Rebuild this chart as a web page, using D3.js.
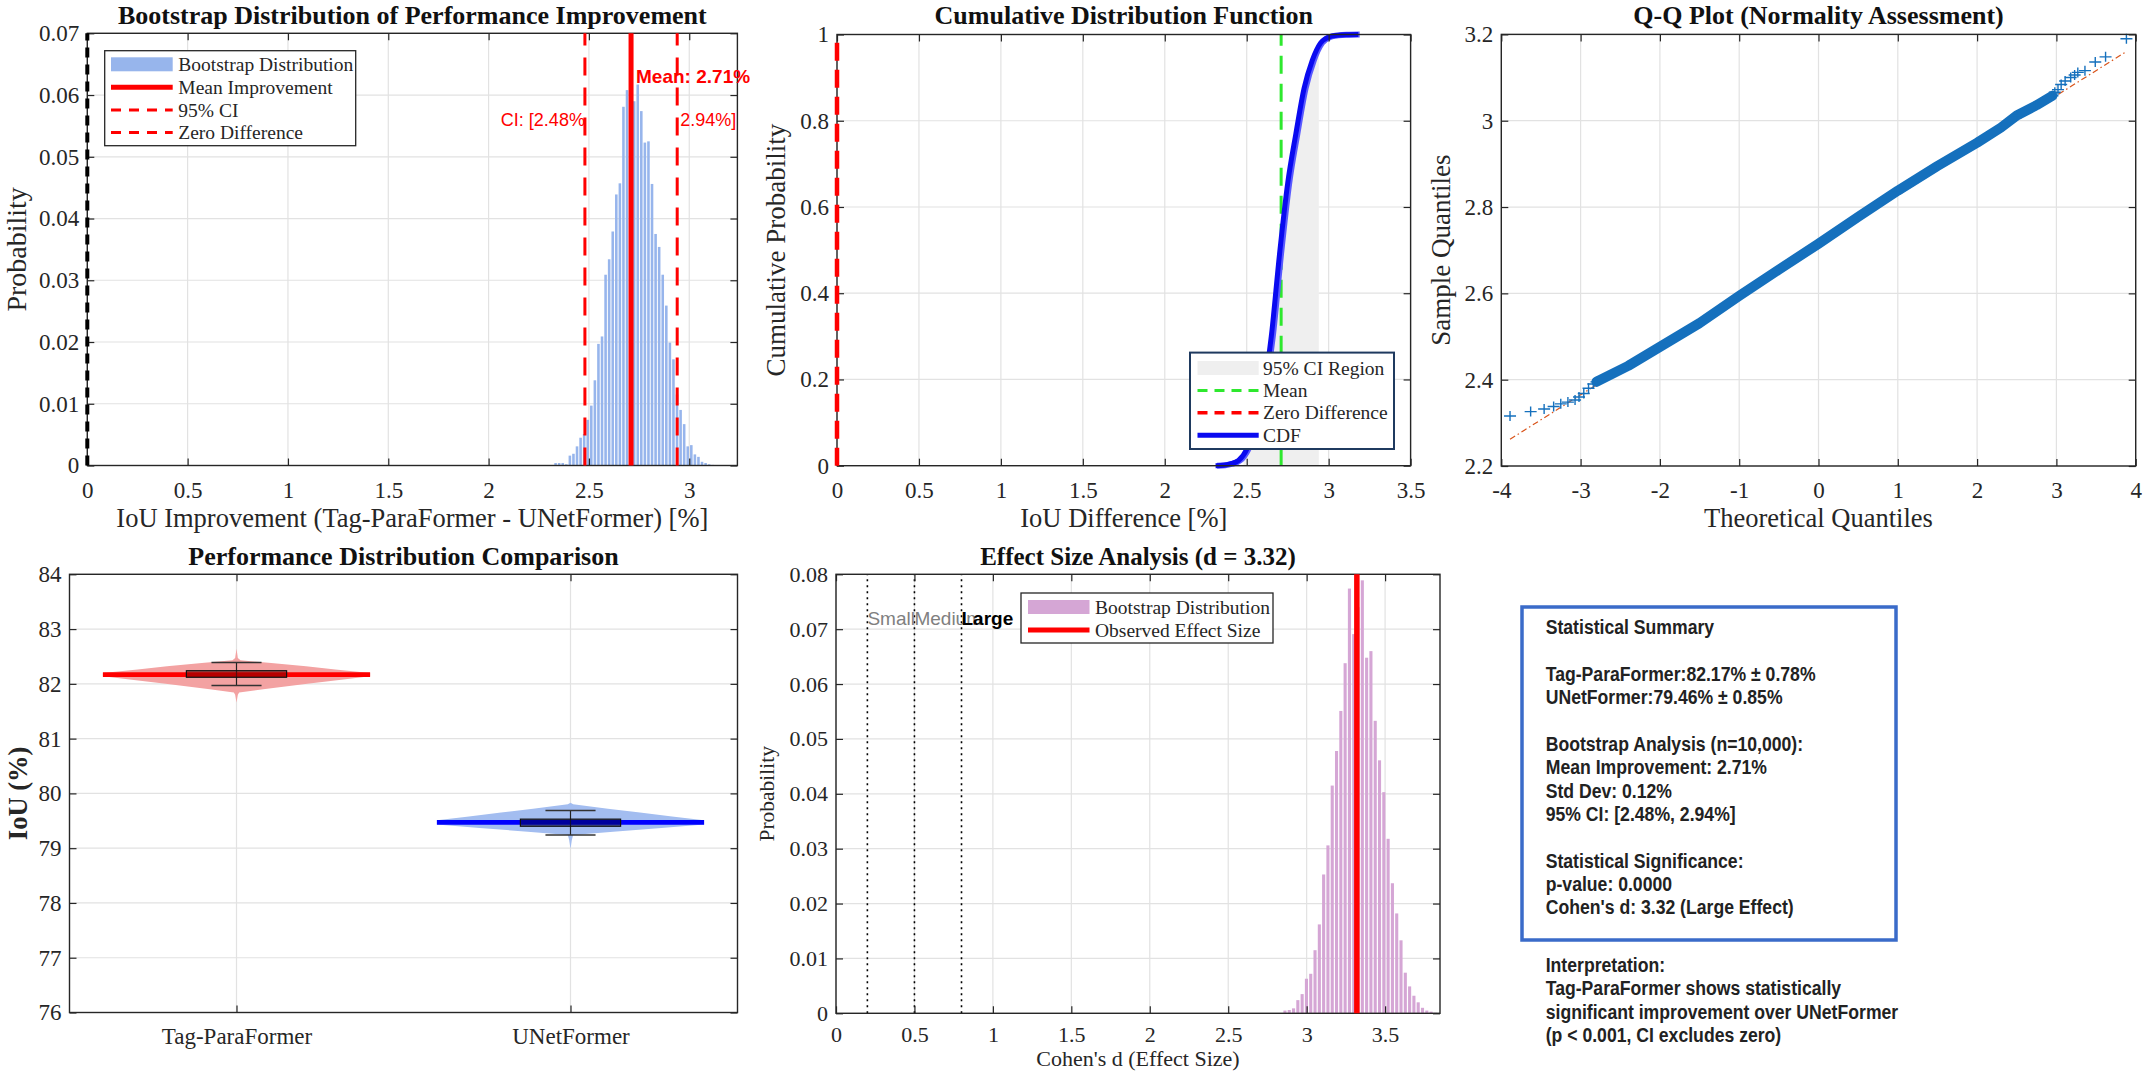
<!DOCTYPE html>
<html><head><meta charset="utf-8">
<script src="https://cdn.jsdelivr.net/npm/d3@7"></script>
<style>body{margin:0;background:#fff}svg{display:block}</style>
</head><body>
<svg id="c" width="2144" height="1078"></svg>
<script>
// ---------------- DATA ----------------
// Panel 1: bootstrap distribution of IoU improvement (histogram, probability)
const diffBinStart = 2.325;
const diffBinWidth = 0.0178;
const diffProb = [0.0004,0.0004,0.0004,0.0002,0.0016,0.0019,0.0031,0.0045,0.0051,0.0074,0.0097,0.0138,0.0197,0.0209,0.0309,0.0334,0.0379,0.0439,0.0457,0.0581,0.0608,0.0552,0.0590,0.0617,0.0574,0.0523,0.0525,0.0456,0.0375,0.0354,0.0309,0.0259,0.0199,0.0172,0.0115,0.0090,0.0067,0.0031,0.0033,0.0018,0.0014,0.0006,0.0004,0.0002,0.0001,0.00005];
const diffMean = 2.71;
const diffCI = [2.48, 2.94];
const diffXTicks = [0,0.5,1,1.5,2,2.5,3];
const diffYTicks = [0,0.01,0.02,0.03,0.04,0.05,0.06,0.07];

// Panel 2: empirical CDF
const cdfX = [2.31,2.36,2.40,2.45,2.50,2.55,2.60,2.65,2.70,2.75,2.80,2.85,2.90,2.95,3.00,3.05,3.10,3.18];
const cdfP = [0,0.001,0.004,0.012,0.038,0.09,0.17,0.30,0.49,0.655,0.77,0.875,0.94,0.98,0.994,0.998,0.9995,1];
const cdfXTicks = [0,0.5,1,1.5,2,2.5,3,3.5];
const cdfYTicks = [0,0.2,0.4,0.6,0.8,1];

// Panel 3: Q-Q plot
const qqBandX = [-2.80,-2.40,-2.00,-1.50,-1.00,-0.50,0.00,0.50,1.00,1.50,2.00,2.30,2.50,2.75,2.95];
const qqBandY = [2.395,2.432,2.476,2.531,2.594,2.655,2.715,2.777,2.838,2.895,2.949,2.984,3.012,3.036,3.058];
const qqTailX = [-3.89,-3.63,-3.46,-3.34,-3.25,-3.16,-3.07,-3.02,-2.96,-2.90,-2.84,2.98,3.02,3.06,3.11,3.18,3.23,3.27,3.36,3.49,3.62,3.883];
const qqTailY = [2.316,2.326,2.332,2.338,2.344,2.348,2.353,2.360,2.368,2.380,2.390,3.066,3.072,3.084,3.092,3.100,3.106,3.112,3.116,3.136,3.148,3.190];
const qqRefX = [-3.89, 3.88];
const qqRefY = [2.262, 3.160];
const qqXTicks = [-4,-3,-2,-1,0,1,2,3,4];
const qqYTicks = [2.2,2.4,2.6,2.8,3,3.2];

// Panel 4: performance distribution (violins)
const models = ["Tag-ParaFormer","UNetFormer"];
const modelMean = [82.17, 79.47];
const modelQ1 = [82.12, 79.40];
const modelQ3 = [82.24, 79.53];
const modelWhiskerLo = [81.97, 79.24];
const modelWhiskerHi = [82.39, 79.69];
const tagViolinY = [81.66,81.80,81.84,81.90,82.00,82.08,82.14,82.17,82.20,82.26,82.32,82.38,82.43,82.47,82.64];
const tagViolinW = [0,0.01,0.02,0.2,0.53,0.8,1,1,1,0.74,0.52,0.26,0.03,0.01,0];
const uneViolinY = [78.99,79.15,79.24,79.30,79.37,79.43,79.47,79.51,79.58,79.65,79.72,79.80,79.83];
const uneViolinW = [0,0.01,0.02,0.32,0.68,1,1,1,0.76,0.52,0.28,0.02,0];
const iouYTicks = [76,77,78,79,80,81,82,83,84];

// Panel 5: effect size
const effBinStart = 2.848;
const effBinWidth = 0.0274;
const effProb = [0.0005,0.0006,0.0009,0.0024,0.0035,0.0063,0.0072,0.0115,0.0162,0.0253,0.0306,0.0415,0.0478,0.0551,0.0638,0.0774,0.0691,0.0740,0.0789,0.0648,0.0660,0.0533,0.0461,0.0403,0.0318,0.0237,0.0182,0.0133,0.0074,0.0049,0.0032,0.0020,0.0010,0.0005,0.0003,0.0001];
const cohenD = 3.32;
const effThresh = [0.2, 0.5, 0.8];
const effThreshLabel = ["Small","Medium","Large"];
const effXTicks = [0,0.5,1,1.5,2,2.5,3,3.5];
const effYTicks = [0,0.01,0.02,0.03,0.04,0.05,0.06,0.07,0.08];

// Panel 6: summary text
const summaryLines = [
  "Statistical Summary","",
  "Tag-ParaFormer:82.17% \u00b1 0.78%",
  "UNetFormer:79.46% \u00b1 0.85%","",
  "Bootstrap Analysis (n=10,000):",
  "Mean Improvement: 2.71%",
  "Std Dev: 0.12%",
  "95% CI: [2.48%, 2.94%]","",
  "Statistical Significance:",
  "p-value: 0.0000",
  "Cohen's d: 3.32 (Large Effect)"
];
const interpretationLines = [
  "Interpretation:",
  "Tag-ParaFormer shows statistically",
  "significant improvement over UNetFormer",
  "(p < 0.001, CI excludes zero)"
];

// ---------------- DRAWING ----------------
const svg = d3.select("#c");
const SERIF = "'Liberation Serif','Times New Roman',Times,serif";
const SANS = "'Liberation Sans',Arial,Helvetica,sans-serif";
const INK = "#262626";

function makeAxes(o){
  const x = d3.scaleLinear().domain(o.xDomain).range([o.l, o.r]);
  const y = d3.scaleLinear().domain(o.yDomain).range([o.b, o.t]);
  const root = svg.append("g");
  const gGrid = root.append("g");
  const gData = root.append("g");
  const gFrame = root.append("g");
  const gTop = root.append("g");
  gGrid.selectAll("line.gx").data(o.xTicks).join("line")
    .attr("x1", d => x(d)).attr("x2", d => x(d)).attr("y1", o.t).attr("y2", o.b)
    .attr("stroke", "#e2e2e2").attr("stroke-width", 1.2);
  gGrid.selectAll("line.gy").data(o.yTicks).join("line")
    .attr("y1", d => y(d)).attr("y2", d => y(d)).attr("x1", o.l).attr("x2", o.r)
    .attr("stroke", "#e2e2e2").attr("stroke-width", 1.2);
  const fs = o.fs || 23;
  const xl = o.xLabels || o.xTicks.map(String);
  const yl = o.yLabels || o.yTicks.map(String);
  const style = g => {
    g.select(".domain").remove();
    g.selectAll("line").attr("stroke", INK).attr("stroke-width", 1.2);
    g.selectAll("text").attr("font-family", SERIF).attr("font-size", fs).attr("fill", INK);
  };
  gFrame.append("g").attr("transform", `translate(0,${o.b})`)
    .call(d3.axisBottom(x).tickValues(o.xTicks).tickFormat((d,i) => xl[i]).tickSizeInner(-7).tickSizeOuter(0).tickPadding(o.xPad || 16)).call(style);
  gFrame.append("g").attr("transform", `translate(${o.l},0)`)
    .call(d3.axisLeft(y).tickValues(o.yTicks).tickFormat((d,i) => yl[i]).tickSizeInner(-7).tickSizeOuter(0).tickPadding(8)).call(style);
  gFrame.append("g").attr("transform", `translate(0,${o.t})`)
    .call(d3.axisTop(x).tickValues(o.xTicks).tickFormat("").tickSizeInner(-7).tickSizeOuter(0)).call(style);
  gFrame.append("g").attr("transform", `translate(${o.r},0)`)
    .call(d3.axisRight(y).tickValues(o.yTicks).tickFormat("").tickSizeInner(-7).tickSizeOuter(0)).call(style);
  gFrame.append("rect").attr("x", o.l).attr("y", o.t).attr("width", o.r - o.l).attr("height", o.b - o.t)
    .attr("fill", "none").attr("stroke", INK).attr("stroke-width", 1.4);
  svg.append("text").attr("x", (o.l + o.r) / 2).attr("y", o.titleY).attr("text-anchor", "middle")
    .attr("font-family", SERIF).attr("font-weight", "bold").attr("font-size", o.titleFs || 26).attr("fill", "#111")
    .text(o.title);
  if (o.xLabel) svg.append("text").attr("x", (o.l + o.r) / 2).attr("y", o.xLabelY).attr("text-anchor", "middle")
    .attr("font-family", SERIF).attr("font-size", o.labelFs || 26.5).attr("fill", INK).text(o.xLabel);
  svg.append("text").attr("transform", `translate(${o.yLabelX},${(o.t + o.b) / 2}) rotate(-90)`)
    .attr("text-anchor", "middle").attr("dominant-baseline", "central")
    .attr("font-family", SERIF).attr("font-size", o.yLabelFs || o.labelFs || 26.5)
    .attr("font-weight", o.yLabelBold ? "bold" : "normal").attr("fill", INK).text(o.yLabel);
  return {x, y, gData, gTop, root};
}

function legend(g, box, rows, o){
  g.append("rect").attr("x", box[0]).attr("y", box[1]).attr("width", box[2] - box[0]).attr("height", box[3] - box[1])
    .attr("fill", "#fff").attr("stroke", o.stroke || INK).attr("stroke-width", o.sw || 1.3);
  rows.forEach((r, i) => {
    const cy = o.rowY[i];
    if (r.type === "patch") {
      g.append("rect").attr("x", o.sx0).attr("y", cy - 7).attr("width", o.sx1 - o.sx0).attr("height", 14).attr("fill", r.color);
    } else {
      g.append("line").attr("x1", o.sx0).attr("x2", o.sx1).attr("y1", cy).attr("y2", cy)
        .attr("stroke", r.color).attr("stroke-width", r.w).attr("stroke-dasharray", r.dash || null);
    }
    g.append("text").attr("x", o.tx).attr("y", cy).attr("dominant-baseline", "central")
      .attr("font-family", SERIF).attr("font-size", o.fs || 19.5).attr("fill", INK).text(r.label);
  });
}

// ---- Panel 1 ----
{
  const A = makeAxes({l: 87.3, r: 737.4, t: 33.3, b: 465.5, xDomain: [0, 3.24], yDomain: [0, 0.07],
    xTicks: diffXTicks, yTicks: diffYTicks, title: "Bootstrap Distribution of Performance Improvement", titleY: 24,
    xLabel: "IoU Improvement (Tag-ParaFormer - UNetFormer) [%]", xLabelY: 527, yLabel: "Probability", yLabelX: 16, yLabelFs: 28});
  const {x, y, gData, gTop} = A;
  gData.selectAll("rect.bar").data(diffProb).join("rect")
    .attr("x", (d, i) => x(diffBinStart + i * diffBinWidth) + 0.5)
    .attr("width", (d, i) => x(diffBinStart + (i + 1) * diffBinWidth) - x(diffBinStart + i * diffBinWidth) - 1)
    .attr("y", d => y(d)).attr("height", d => y(0) - y(d)).attr("fill", "#97b5ec");
  gTop.append("line").attr("x1", x(0)).attr("x2", x(0)).attr("y1", y(0)).attr("y2", y(0.07))
    .attr("stroke", "#000").attr("stroke-width", 4).attr("stroke-dasharray", "10,7");
  gTop.append("line").attr("x1", x(diffMean)).attr("x2", x(diffMean)).attr("y1", y(0)).attr("y2", y(0.07))
    .attr("stroke", "#ff0000").attr("stroke-width", 5);
  diffCI.forEach(v => gTop.append("line").attr("x1", x(v)).attr("x2", x(v)).attr("y1", y(0)).attr("y2", y(0.07))
    .attr("stroke", "#ff0000").attr("stroke-width", 3).attr("stroke-dasharray", "18,12"));
  gTop.append("text").attr("x", x(diffMean) + 5).attr("y", y(0.063)).attr("dominant-baseline", "central")
    .attr("font-family", SANS).attr("font-weight", "bold").attr("font-size", 19).attr("fill", "#ff0000").text("Mean: " + diffMean.toFixed(2) + "%");
  gTop.append("text").attr("x", x(diffCI[0])).attr("y", y(0.056)).attr("dominant-baseline", "central").attr("text-anchor", "end")
    .attr("font-family", SANS).attr("font-size", 18).attr("fill", "#ff0000").text("CI: [" + diffCI[0].toFixed(2) + "%");
  gTop.append("text").attr("x", x(diffCI[1]) + 3).attr("y", y(0.056)).attr("dominant-baseline", "central")
    .attr("font-family", SANS).attr("font-size", 18).attr("fill", "#ff0000").text(diffCI[1].toFixed(2) + "%]");
  legend(gTop, [104.7, 50.7, 355.7, 145.7], [
    {type: "patch", color: "#97b5ec", label: "Bootstrap Distribution"},
    {type: "line", color: "#ff0000", w: 5, label: "Mean Improvement"},
    {type: "line", color: "#ff0000", w: 3, dash: "10,8", label: "95% CI"},
    {type: "line", color: "#ff0000", w: 3, dash: "10,8", label: "Zero Difference"}
  ], {rowY: [64.3, 87.3, 110, 132.5], sx0: 111, sx1: 172.7, tx: 178.3});
}

// ---- Panel 2 ----
{
  const A = makeAxes({l: 837, r: 1410.6, t: 34.5, b: 465.7, xDomain: [0, 3.5], yDomain: [0, 1],
    xTicks: cdfXTicks, yTicks: cdfYTicks, title: "Cumulative Distribution Function", titleY: 24,
    xLabel: "IoU Difference [%]", xLabelY: 527, yLabel: "Cumulative Probability", yLabelX: 776, yLabelFs: 27});
  const {x, y, gData, gTop, root} = A;
  // 95% CI region: area under the CDF between CI bounds
  root.append("clipPath").attr("id", "ciClip").append("rect")
    .attr("x", x(diffCI[0])).attr("width", x(diffCI[1]) - x(diffCI[0])).attr("y", y(1)).attr("height", y(0) - y(1));
  const area = d3.area().x((d, i) => x(cdfX[i])).y0(y(0)).y1(d => y(d)).curve(d3.curveMonotoneX);
  gData.append("path").attr("d", area(cdfP)).attr("fill", "#efefef").attr("clip-path", "url(#ciClip)");
  gData.append("line").attr("x1", x(diffMean)).attr("x2", x(diffMean)).attr("y1", y(0)).attr("y2", y(1))
    .attr("stroke", "#2ee82e").attr("stroke-width", 3).attr("stroke-dasharray", "18,10");
  const line = d3.line().x((d, i) => x(cdfX[i])).y(d => y(d)).curve(d3.curveMonotoneX);
  gData.append("path").attr("d", line(cdfP)).attr("fill", "none").attr("stroke", "#5a5aff").attr("stroke-width", 6)
    .attr("transform", "translate(1.5,0)");
  gData.append("path").attr("d", line(cdfP)).attr("fill", "none").attr("stroke", "#0a0af0").attr("stroke-width", 5);
  gTop.append("line").attr("x1", x(0)).attr("x2", x(0)).attr("y1", y(0)).attr("y2", y(1))
    .attr("stroke", "#ff0000").attr("stroke-width", 4.5).attr("stroke-dasharray", "18,9");
  legend(gTop, [1190, 352.6, 1394, 449], [
    {type: "patch", color: "#efefef", label: "95% CI Region"},
    {type: "line", color: "#2ee82e", w: 3, dash: "10,7", label: "Mean"},
    {type: "line", color: "#ff0000", w: 3.5, dash: "10,7", label: "Zero Difference"},
    {type: "line", color: "#0a0af0", w: 5, label: "CDF"}
  ], {rowY: [368, 390.4, 412.8, 435.2], sx0: 1197.5, sx1: 1258.7, tx: 1263, stroke: "#1f3a5f", sw: 2});
}

// ---- Panel 3 ----
{
  const A = makeAxes({l: 1501.3, r: 2135.7, t: 34.4, b: 466, xDomain: [-4, 4], yDomain: [2.2, 3.2],
    xTicks: qqXTicks, yTicks: qqYTicks, title: "Q-Q Plot (Normality Assessment)", titleY: 24,
    xLabel: "Theoretical Quantiles", xLabelY: 527, yLabel: "Sample Quantiles", yLabelX: 1441, yLabelFs: 27});
  const {x, y, gData} = A;
  gData.append("line").attr("x1", x(qqRefX[0])).attr("x2", x(qqRefX[1])).attr("y1", y(qqRefY[0])).attr("y2", y(qqRefY[1]))
    .attr("stroke", "#d95319").attr("stroke-width", 1.2).attr("stroke-dasharray", "6,3,1.5,3");
  const band = d3.line().x((d, i) => x(qqBandX[i])).y(d => y(d));
  gData.append("path").attr("d", band(qqBandY)).attr("fill", "none").attr("stroke", "#1570bd")
    .attr("stroke-width", 10).attr("stroke-linecap", "round").attr("stroke-linejoin", "round");
  const plus = "M-6,0H6M0,-5V5";
  gData.selectAll("path.tail").data(qqTailY).join("path")
    .attr("transform", (d, i) => `translate(${x(qqTailX[i])},${y(d)})`).attr("d", plus)
    .attr("stroke", "#1570bd").attr("stroke-width", 1.4).attr("fill", "none");
  gData.selectAll("path.body").data(qqBandY).join("path")
    .attr("transform", (d, i) => `translate(${x(qqBandX[i])},${y(d)})`).attr("d", plus)
    .attr("stroke", "#1570bd").attr("stroke-width", 1.4).attr("fill", "none");
}

// ---- Panel 4 ----
{
  const A = makeAxes({l: 69.5, r: 737.5, t: 574.3, b: 1012.5, xDomain: [0.5, 2.5], yDomain: [76, 84],
    xTicks: [1, 2], xLabels: models, yTicks: iouYTicks, xPad: 15, title: "Performance Distribution Comparison", titleY: 565,
    xLabel: "", yLabel: "IoU (%)", yLabelX: 18, yLabelBold: true});
  const {x, y, gData} = A;
  const vY = [tagViolinY, uneViolinY], vW = [tagViolinW, uneViolinW];
  const fills = ["#f3a2a2", "#a3bdf0"], lineC = ["#ff0000", "#0000ff"], boxC = ["#7a0000", "#00004d"];
  const half = 0.4;
  models.forEach((m, k) => {
    const c = k + 1;
    const pts = vY[k].map((v, i) => [x(c + half * vW[k][i]), y(v)])
      .concat(vY[k].map((v, i) => [x(c - half * vW[k][i]), y(v)]).reverse());
    gData.append("path").attr("d", d3.line()(pts) + "Z").attr("fill", fills[k]);
    gData.append("line").attr("x1", x(c - half)).attr("x2", x(c + half)).attr("y1", y(modelMean[k])).attr("y2", y(modelMean[k]))
      .attr("stroke", lineC[k]).attr("stroke-width", 4.8);
    gData.append("line").attr("x1", x(c)).attr("x2", x(c)).attr("y1", y(modelWhiskerLo[k])).attr("y2", y(modelWhiskerHi[k]))
      .attr("stroke", "#222").attr("stroke-width", 1.2);
    [modelWhiskerLo[k], modelWhiskerHi[k]].forEach(v => gData.append("line")
      .attr("x1", x(c - 0.075)).attr("x2", x(c + 0.075)).attr("y1", y(v)).attr("y2", y(v))
      .attr("stroke", "#333").attr("stroke-width", 1.5));
    gData.append("rect").attr("x", x(c - 0.15)).attr("width", x(c + 0.15) - x(c - 0.15))
      .attr("y", y(modelQ3[k])).attr("height", y(modelQ1[k]) - y(modelQ3[k]))
      .attr("fill", boxC[k]).attr("fill-opacity", 0.55).attr("stroke", "#111").attr("stroke-width", 1.2);
  });
}

// ---- Panel 5 ----
{
  const A = makeAxes({l: 836, r: 1440, t: 574.3, b: 1013.3, xDomain: [0, 3.85], yDomain: [0, 0.08],
    xTicks: effXTicks, yTicks: effYTicks, fs: 22, xPad: 13, title: "Effect Size Analysis (d = " + cohenD.toFixed(2) + ")", titleY: 565,
    titleFs: 25, xLabel: "Cohen's d (Effect Size)", xLabelY: 1066, labelFs: 22, yLabel: "Probability", yLabelX: 767, yLabelFs: 21.5});
  const {x, y, gData, gTop} = A;
  gData.selectAll("rect.bar").data(effProb).join("rect")
    .attr("x", (d, i) => x(effBinStart + i * effBinWidth) + 0.6)
    .attr("width", (d, i) => x(effBinStart + (i + 1) * effBinWidth) - x(effBinStart + i * effBinWidth) - 1.2)
    .attr("y", d => y(d)).attr("height", d => y(0) - y(d)).attr("fill", "#d5a6d5");
  effThresh.forEach(v => gData.append("line").attr("x1", x(v)).attr("x2", x(v)).attr("y1", y(0)).attr("y2", y(0.08))
    .attr("stroke", "#000").attr("stroke-width", 1.6).attr("stroke-dasharray", "2,4"));
  effThresh.forEach((v, i) => gData.append("text").attr("x", x(v)).attr("y", y(0.072)).attr("dominant-baseline", "central")
    .attr("font-family", SANS).attr("font-size", 19).attr("font-weight", i === 2 ? "bold" : "normal")
    .attr("fill", i === 2 ? "#000" : "#808080").text(effThreshLabel[i]));
  gTop.append("line").attr("x1", x(cohenD)).attr("x2", x(cohenD)).attr("y1", y(0)).attr("y2", y(0.08))
    .attr("stroke", "#ff0000").attr("stroke-width", 5.5);
  legend(gTop, [1021, 593, 1273, 643], [
    {type: "patch", color: "#d5a6d5", label: "Bootstrap Distribution"},
    {type: "line", color: "#ff0000", w: 5, label: "Observed Effect Size"}
  ], {rowY: [607, 630], sx0: 1028, sx1: 1089.5, tx: 1095});
}

// ---- Panel 6 ----
{
  const g = svg.append("g");
  g.append("rect").attr("x", 1522).attr("y", 607).attr("width", 1896 - 1522).attr("height", 940 - 607)
    .attr("fill", "#fff").attr("stroke", "#3a6bc9").attr("stroke-width", 3.5);
  const sx = 0.86;
  g.selectAll("text.sum").data(summaryLines).join("text").attr("class", "sum")
    .attr("transform", (d, i) => `translate(1545.7,${634.3 + i * 23.33}) scale(${sx},1)`)
    .attr("font-family", SANS).attr("font-weight", "bold").attr("font-size", 20.5).attr("fill", "#222")
    .text(d => d);
  g.selectAll("text.interp").data(interpretationLines).join("text").attr("class", "interp")
    .attr("transform", (d, i) => `translate(1545.7,${972 + i * 23.3}) scale(${sx},1)`)
    .attr("font-family", SANS).attr("font-weight", "bold").attr("font-size", 20.5).attr("fill", "#222")
    .text(d => d);
}
</script>
</body></html>
